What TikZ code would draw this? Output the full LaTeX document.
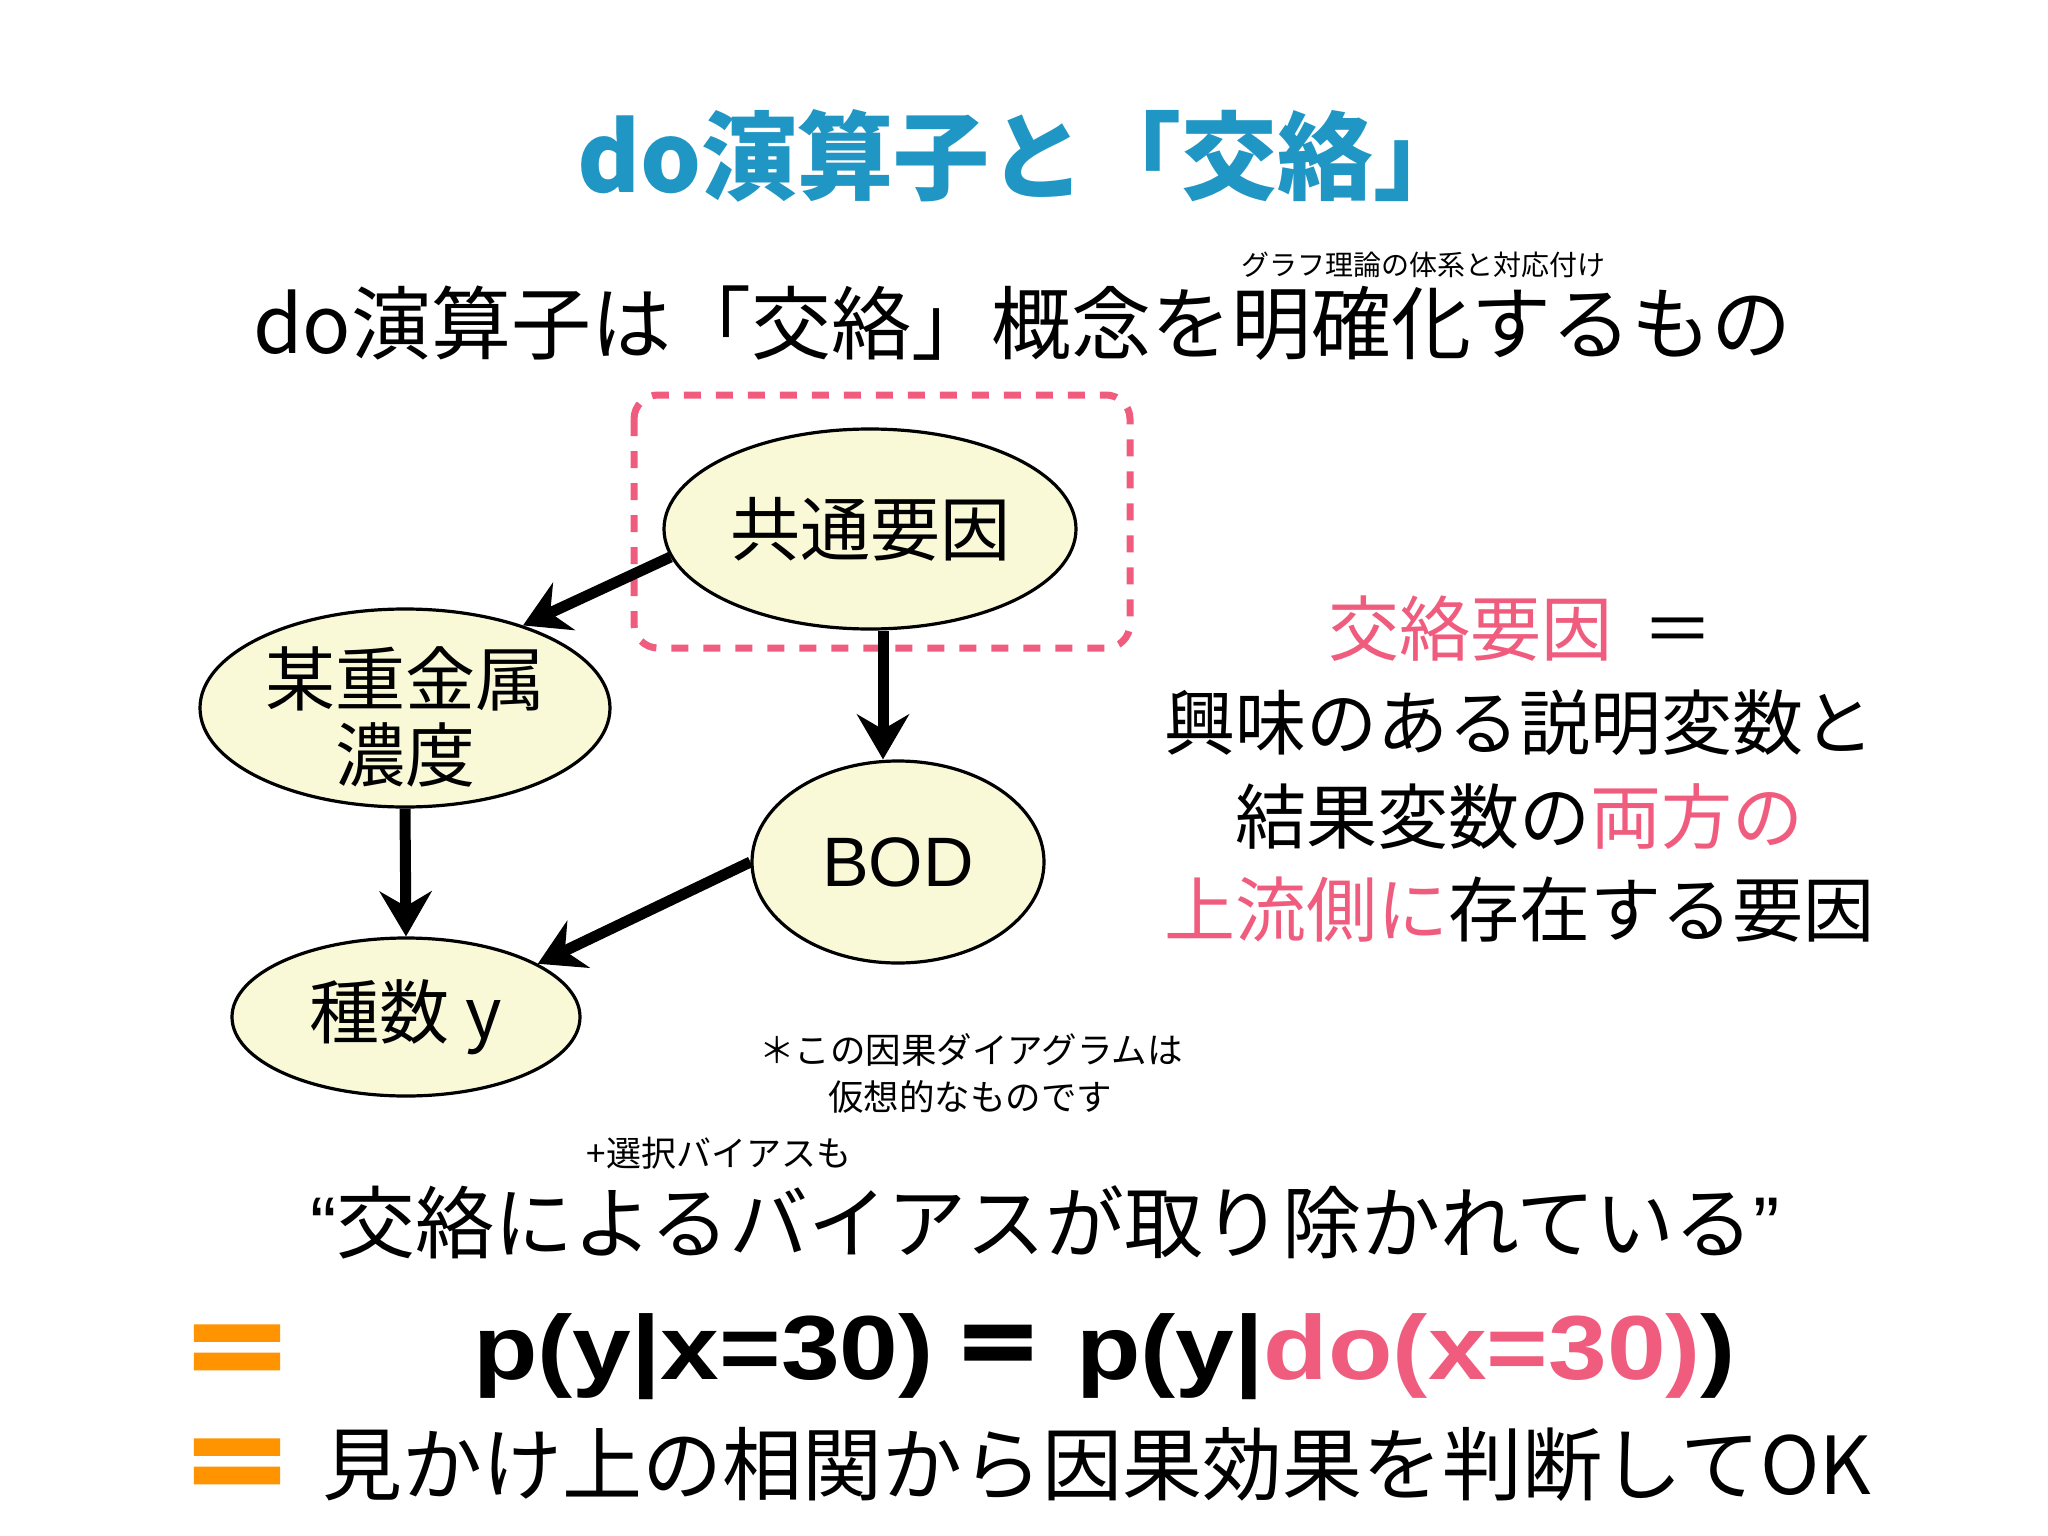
\documentclass[tikz,border=0pt]{standalone}
\usepackage{fontspec}
\usetikzlibrary{shapes.geometric,arrows.meta}
\newfontfamily\jp{Noto Sans CJK JP}
\newfontfamily\jpheavy{Noto Sans CJK JP}[BoldFeatures={FakeBold=3}]
\newfontfamily\lat{Liberation Sans}
\newfontfamily\eqf{Liberation Sans}[FakeStretch=1.16]
\newcommand{\setfs}[2]{\fontsize{#1}{#2}\selectfont}
\definecolor{titleblue}{RGB}{31,150,196}
\definecolor{hlpink}{RGB}{240,92,126}
\definecolor{nodefill}{RGB}{249,249,216}
\definecolor{bulletorange}{RGB}{255,148,0}
\begin{document}
\begin{tikzpicture}[x=1pt,y=-1pt,
  txt/.style={inner sep=0pt, outer sep=0pt},
  var/.style={ellipse, draw=black, line width=3.2pt, fill=nodefill, inner sep=0pt, align=center},
  arr/.style={line width=11pt, -{Stealth[length=45pt,width=52pt,inset=15pt]}},
  dashbox/.style={draw=hlpink, line width=7pt, dash pattern=on 17pt off 15pt, rounded corners=24pt}]
\useasboundingbox[fill=white] (0,0) rectangle (2048,1536);

% title and subtitle
\node[txt, anchor=base west, text=titleblue, font=\jp\bfseries\setfs{96}{110}] (title) at (577,192) {do演算子と「交絡」};
\node[txt, anchor=base west, font=\jp\setfs{80}{90}] (sub) at (253,353) {do演算子は「交絡」概念を明確化するもの};
\node[txt, anchor=base, font=\jp\setfs{28}{32}] (ruby) at (1423,275) {グラフ理論の体系と対応付け};

% highlight box
\draw[dashbox] (634,395) rectangle (1130,648);

% causal diagram
\node[var, minimum width=412pt, minimum height=200pt, font=\jp\setfs{70}{76}] (common) at (870,529) {共通要因};
\node[var, minimum width=410pt, minimum height=198pt] (metal) at (405,708) {};
\node[txt, align=center, font=\jp\setfs{70}{76}] (metaltext) at (405,717) {某重金属\\濃度};
\node[var, minimum width=292pt, minimum height=202pt, font=\lat\setfs{70}{76}] (bod) at (898,862) {BOD};
\node[var, minimum width=348pt, minimum height=158pt, font=\jp\setfs{70}{76}] (species) at (406,1017) {種数 y};

\draw[arr] (common.188) -- (metal.35);
\draw[arr] ([xshift=13pt]common.south) -- ([xshift=-15pt]bod.north);
\draw[arr] (metal.south) -- (species.north);
\draw[arr] (bod.west) -- (species.22);

% right explanation
\node[txt, anchor=base, font=\jp\setfs{71}{80}] (r1) at (1521,655) {\textcolor{hlpink}{交絡要因}\hspace{30pt}＝};
\node[txt, anchor=base, font=\jp\setfs{71}{80}] (r2) at (1519,749) {興味のある説明変数と};
\node[txt, anchor=base, font=\jp\setfs{71}{80}] (r3) at (1519,843) {結果変数の\textcolor{hlpink}{両方の}};
\node[txt, anchor=base, font=\jp\setfs{71}{80}] (r4) at (1519,936) {\textcolor{hlpink}{上流側に}存在する要因};

% footnote
\node[txt, anchor=base, font=\jp\setfs{35.5}{40}] (fn1) at (971,1063) {＊この因果ダイアグラムは};
\node[txt, anchor=base, font=\jp\setfs{35.5}{40}] (fn2) at (970,1110) {仮想的なものです};

% bottom statements
\node[txt, anchor=base, font=\jp\setfs{35}{40}] (sel) at (719,1166) {+選択バイアスも};
\node[txt, anchor=base, font=\jp\setfs{79}{90}] (quote) at (1045,1252) {{\lat “}交絡によるバイアスが取り除かれている{\lat ”}};

\node[txt, anchor=center, text=bulletorange, font=\jpheavy\bfseries\setfs{118}{120}] (b1) at (237,1360) {＝};
\node[txt, anchor=base west, font=\eqf\bfseries\setfs{91}{100}] (eqL) at (473,1379) {p(y|x=30)};
\node[txt, anchor=base, font=\jpheavy\bfseries\setfs{92}{100}] (eqM) at (998,1379) {＝};
\node[txt, anchor=base west, font=\eqf\bfseries\setfs{91}{100}] (eqR) at (1076,1379) {p(y|\textcolor{hlpink}{do(x=30)})};

\node[txt, anchor=center, text=bulletorange, font=\jpheavy\bfseries\setfs{118}{120}] (b2) at (237,1474) {＝};
\node[txt, anchor=base, font=\jp\setfs{80}{90}] (last) at (1097,1494) {見かけ上の相関から因果効果を判断してOK};
\end{tikzpicture}
\end{document}
